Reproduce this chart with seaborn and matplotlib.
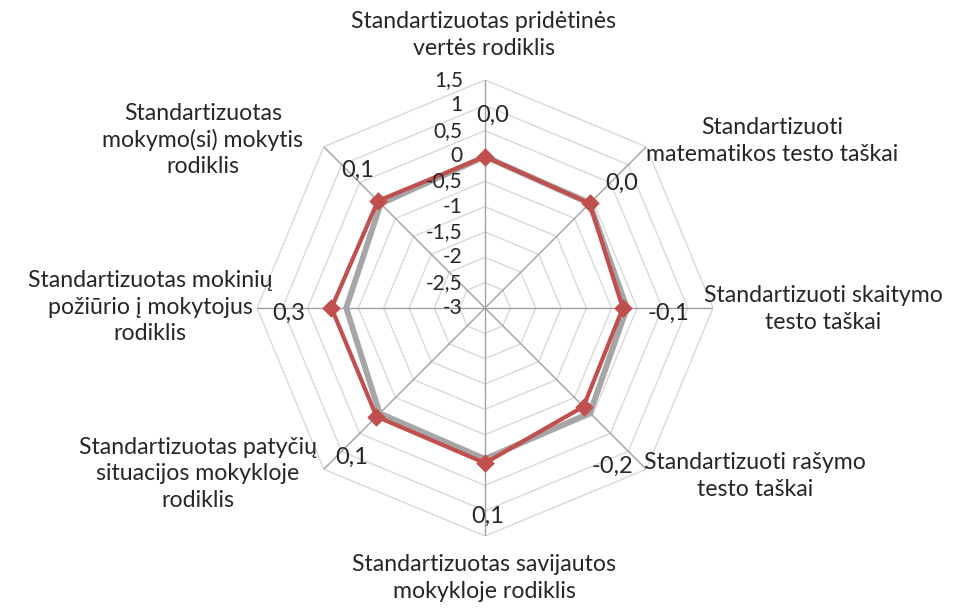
import numpy as np
import pandas as pd
import matplotlib
matplotlib.use("Agg")
import matplotlib.pyplot as plt
import seaborn as sns

categories = [
    "Standartizuotas pridėtinės\nvertės rodiklis",
    "Standartizuoti\nmatematikos testo taškai",
    "Standartizuoti skaitymo\ntesto taškai",
    "Standartizuoti rašymo\ntesto taškai",
    "Standartizuotas savijautos\nmokykloje rodiklis",
    "Standartizuotas patyčių\nsituacijos mokykloje\nrodiklis",
    "Standartizuotas mokinių\npožiūrio į mokytojus\nrodiklis",
    "Standartizuotas\nmokymo(si) mokytis\nrodiklis",
]
school = [-0.01, -0.08, -0.28, -0.25, 0.06, 0.03, 0.03, -0.01]
comparison = [-0.01, -0.08, -0.20, -0.07, -0.02, -0.06, -0.26, -0.09]
value_labels = ["0,0", "0,0", "-0,1", "-0,2", "0,1", "0,1", "0,3", "0,1"]
ticks = [-3, -2.5, -2, -1.5, -1, -0.5, 0, 0.5, 1, 1.5]
tick_labels = ["-3", "-2,5", "-2", "-1,5", "-1", "-0,5", "0", "0,5", "1", "1,5"]

RED = "#C0504D"
GRAY = "#A6A6A6"

sns.set_theme(style="white")
plt.rcParams["font.family"] = ["Lato", "DejaVu Sans"]

fig = plt.figure(figsize=(9.54, 6.08), dpi=100)
ax = fig.add_axes([0.2694, 0.1184, 0.478, 0.75], projection="polar")
ax.set_theta_offset(np.pi / 2)
ax.set_theta_direction(-1)
ax.set_ylim(-3, 1.5)
ax.grid(False)
ax.spines["polar"].set_visible(False)

n = len(categories)
theta = np.arange(n) * 2 * np.pi / n
theta_c = np.append(theta, theta[0])

# octagonal rings
for v in ticks[1:]:
    ax.plot(theta_c, [v] * (n + 1), color="#D9D9D9", lw=1.0, zorder=1)
# spokes
for t in theta:
    ax.plot([t, t], [-3, 1.5], color="#A0A0A0", lw=1.0, zorder=1.5)

# tick labels
for v, lab in zip(ticks, tick_labels):
    ax.annotate(lab, xy=(0, v), xytext=(-16, 0), textcoords="offset points",
                ha="right", va="center", fontsize=15, color="#262626", zorder=5)

df = pd.DataFrame({
    "theta": np.concatenate([theta_c, theta_c]),
    "value": np.concatenate([np.append(comparison, comparison[0]), np.append(school, school[0])]),
    "series": ["comparison"] * (n + 1) + ["school"] * (n + 1),
})
sns.lineplot(data=df, x="theta", y="value", hue="series", sort=False,
             palette={"comparison": GRAY, "school": RED}, ax=ax, legend=False,
             estimator=None)
lines = ax.get_lines()
lines[-2].set_linewidth(4.2)
lines[-2].set_zorder(3)
lines[-1].set_linewidth(3.0)
lines[-1].set_zorder(4)
sns.scatterplot(x=theta, y=school, marker="D", s=90, color=RED, edgecolor=RED,
                linewidth=0, ax=ax, zorder=6)
ax.set_xlabel("")
ax.set_ylabel("")
ax.set_xticks([])
ax.set_yticks([])
ax.set_ylim(-3, 1.5)

W, H = 954, 608
# data labels (figure pixel positions)
lab_pos = [(493, 115), (622, 183), (668, 313), (612, 466), (488, 516),
           (352, 457), (289, 313), (358, 170)]
for lab, (px, py) in zip(value_labels, lab_pos):
    fig.text(px / W, 1 - py / H, lab, ha="center", va="center",
             fontsize=17, color="#262626", zorder=7)

# category labels in figure pixels
cat_pos = [(484, 35), (772, 141), (823, 309), (755, 476), (484, 578),
           (198, 474), (150, 307), (203, 140)]
for lab, (px, py) in zip(categories, cat_pos):
    fig.text(px / W, 1 - py / H, lab, ha="center", va="center",
             fontsize=16.7, color="#262626", linespacing=1.3)

fig.savefig("out.png", dpi=100, facecolor="white")
